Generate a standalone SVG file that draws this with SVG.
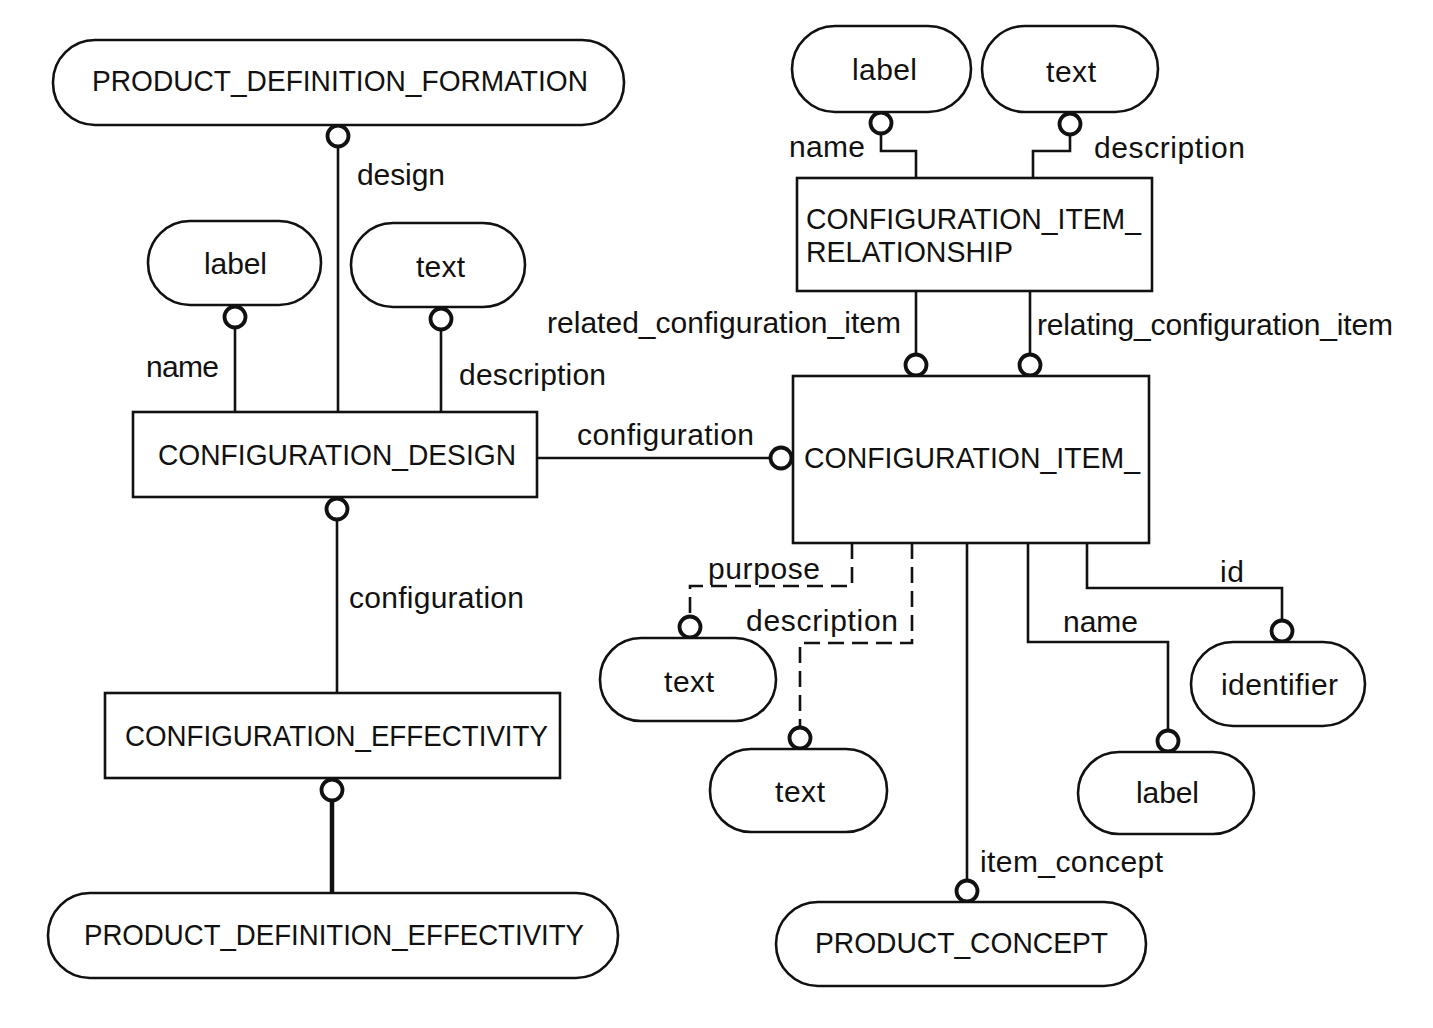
<svg xmlns="http://www.w3.org/2000/svg" width="1433" height="1028" viewBox="0 0 1433 1028">
<style>
  .box { fill: #fff; stroke: #111; stroke-width: 2.6; }
  .pill { fill: #fff; stroke: #111; stroke-width: 2.6; }
  .ring { fill: #fff; stroke: #111; stroke-width: 3.8; }
  .ln { fill: none; stroke: #111; stroke-width: 2.6; }
  .thick { fill: none; stroke: #111; stroke-width: 4.5; }
  .dash { fill: none; stroke: #111; stroke-width: 2.6; stroke-dasharray: 16 8; }
  text { font-family: "Liberation Sans", Arial, Helvetica, sans-serif; fill: #111; }
  .cap { font-size: 29px; }
  .lc { font-size: 30px; }
</style>
<rect width="1433" height="1028" fill="#fff"/>

<g id="connectors">
  <path class="ln" d="M338 147 V412"/>
  <path class="ln" d="M235 328 V412"/>
  <path class="ln" d="M441 329 V412"/>
  <path class="ln" d="M337 519 V693"/>
  <path class="ln" d="M537 458 H771"/>
  <path class="thick" d="M332 800 V893"/>
  <path class="ln" d="M881 133 V151 H916 V178"/>
  <path class="ln" d="M1070 134 V151 H1033 V178"/>
  <path class="ln" d="M916 291 V355"/>
  <path class="ln" d="M1030 291 V355"/>
  <path class="dash" d="M852 543 V586 H690 V617"/>
  <path class="dash" d="M912 543 V643 H800 V728"/>
  <path class="ln" d="M967 543 V881"/>
  <path class="ln" d="M1028 543 V642 H1168 V731"/>
  <path class="ln" d="M1087 543 V588 H1282 V621"/>
  <circle class="ring" cx="338" cy="136" r="10.5"/>
  <circle class="ring" cx="235" cy="317" r="10.5"/>
  <circle class="ring" cx="441" cy="319" r="10.5"/>
  <circle class="ring" cx="337" cy="509" r="10.5"/>
  <circle class="ring" cx="781" cy="458" r="10.5"/>
  <circle class="ring" cx="332" cy="790" r="10.5"/>
  <circle class="ring" cx="881" cy="123" r="10.5"/>
  <circle class="ring" cx="1070" cy="124" r="10.5"/>
  <circle class="ring" cx="916" cy="365" r="10.5"/>
  <circle class="ring" cx="1030" cy="365" r="10.5"/>
  <circle class="ring" cx="690" cy="627" r="10.5"/>
  <circle class="ring" cx="800" cy="738" r="10.5"/>
  <circle class="ring" cx="967" cy="891" r="10.5"/>
  <circle class="ring" cx="1168" cy="741" r="10.5"/>
  <circle class="ring" cx="1282" cy="631" r="10.5"/>
  <text class="lc" x="357" y="185" textLength="88">design</text>
  <text class="lc" x="146" y="377" textLength="73">name</text>
  <text class="lc" x="459" y="385" textLength="147">description</text>
  <text class="lc" x="349" y="608" textLength="175">configuration</text>
  <text class="lc" x="577" y="445" textLength="177">configuration</text>
  <text class="lc" x="789" y="157" textLength="76">name</text>
  <text class="lc" x="1094" y="158" textLength="151">description</text>
  <text class="lc" x="547" y="333" textLength="354">related_configuration_item</text>
  <text class="lc" x="1037" y="335" textLength="356">relating_configuration_item</text>
  <text class="lc" x="708" y="579" textLength="112">purpose</text>
  <text class="lc" x="746" y="631" textLength="152">description</text>
  <text class="lc" x="980" y="872" textLength="183">item_concept</text>
  <text class="lc" x="1063" y="632" textLength="75">name</text>
  <text class="lc" x="1220" y="582" textLength="24">id</text>
</g>

<g id="product_definition_formation">
  <rect class="pill" x="53" y="40" width="571" height="85" rx="42" ry="42"/>
  <text class="cap" x="92" y="91" textLength="496" lengthAdjust="spacingAndGlyphs">PRODUCT_DEFINITION_FORMATION</text>
</g>
<g id="label_cd">
  <rect class="pill" x="148" y="221" width="173" height="84" rx="42" ry="42"/>
  <text class="lc" x="204" y="274" textLength="63">label</text>
</g>
<g id="text_cd">
  <rect class="pill" x="351" y="223" width="174" height="84" rx="42" ry="42"/>
  <text class="lc" x="416" y="277" textLength="49">text</text>
</g>
<g id="configuration_design">
  <rect class="box" x="133" y="412" width="404" height="85"/>
  <text class="cap" x="158" y="465" textLength="358" lengthAdjust="spacingAndGlyphs">CONFIGURATION_DESIGN</text>
</g>
<g id="configuration_effectivity">
  <rect class="box" x="105" y="693" width="455" height="85"/>
  <text class="cap" x="125" y="746" textLength="423" lengthAdjust="spacingAndGlyphs">CONFIGURATION_EFFECTIVITY</text>
</g>
<g id="product_definition_effectivity">
  <rect class="pill" x="48" y="893" width="570" height="85" rx="42" ry="42"/>
  <text class="cap" x="84" y="945" textLength="500" lengthAdjust="spacingAndGlyphs">PRODUCT_DEFINITION_EFFECTIVITY</text>
</g>
<g id="label_cir">
  <rect class="pill" x="792" y="26" width="179" height="86" rx="43" ry="43"/>
  <text class="lc" x="852" y="80" textLength="65">label</text>
</g>
<g id="text_cir">
  <rect class="pill" x="982" y="26" width="176" height="86" rx="43" ry="43"/>
  <text class="lc" x="1046" y="82" textLength="50">text</text>
</g>
<g id="configuration_item_relationship">
  <rect class="box" x="797" y="178" width="355" height="113"/>
  <text class="cap" x="806" y="229" textLength="335" lengthAdjust="spacingAndGlyphs">CONFIGURATION_ITEM_</text>
  <text class="cap" x="806" y="262" textLength="207" lengthAdjust="spacingAndGlyphs">RELATIONSHIP</text>
</g>
<g id="configuration_item">
  <rect class="box" x="793" y="376" width="356" height="167"/>
  <text class="cap" x="804" y="468" textLength="336" lengthAdjust="spacingAndGlyphs">CONFIGURATION_ITEM_</text>
</g>
<g id="text_purpose">
  <rect class="pill" x="600" y="638" width="176" height="83" rx="41" ry="41"/>
  <text class="lc" x="664" y="692" textLength="50">text</text>
</g>
<g id="text_description">
  <rect class="pill" x="710" y="749" width="177" height="83" rx="41" ry="41"/>
  <text class="lc" x="775" y="802" textLength="50">text</text>
</g>
<g id="label_name">
  <rect class="pill" x="1078" y="752" width="176" height="82" rx="41" ry="41"/>
  <text class="lc" x="1136" y="803" textLength="63">label</text>
</g>
<g id="identifier">
  <rect class="pill" x="1191" y="642" width="174" height="84" rx="42" ry="42"/>
  <text class="lc" x="1221" y="695" textLength="117">identifier</text>
</g>
<g id="product_concept">
  <rect class="pill" x="776" y="902" width="370" height="84" rx="42" ry="42"/>
  <text class="cap" x="815" y="953" textLength="293" lengthAdjust="spacingAndGlyphs">PRODUCT_CONCEPT</text>
</g>
</svg>
